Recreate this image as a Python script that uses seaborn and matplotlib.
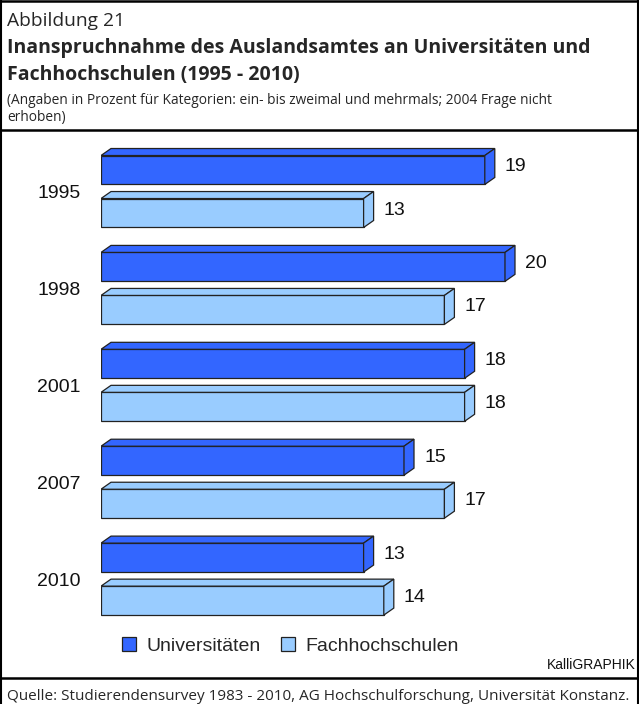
import pandas as pd
import matplotlib.pyplot as plt
import seaborn as sns
from matplotlib.patches import Polygon, Rectangle
from matplotlib.lines import Line2D

# Daten
jahre = ['1995', '1998', '2001', '2007', '2010']
universitaeten = [19, 20, 18, 15, 13]
fachhochschulen = [13, 17, 18, 17, 14]
arten = ['Universitäten', 'Fachhochschulen']
farben = ['#3366FF', '#99CCFF']

df = pd.DataFrame({
    'Jahr': jahre * 2,
    'Prozent': universitaeten + fachhochschulen,
    'Art': [arten[0]] * len(jahre) + [arten[1]] * len(jahre),
})

sns.set_style('white')
plt.rcParams['font.family'] = ['Liberation Sans', 'DejaVu Sans']

W, H = 639, 704
fig = plt.figure(figsize=(W / 100, H / 100), dpi=100)


def fx(px):
    return px / W


def fy(py):
    return 1 - py / H


# Achse in Pixeln: x 101..601, y 140..620
ax = fig.add_axes([fx(101), fy(620), 500 / W, 480 / H])
sns.barplot(data=df, y='Jahr', x='Prozent', hue='Art', orient='h',
            palette=farben, saturation=1, width=0.888, gap=0.327, edgecolor='#222222',
            linewidth=0.9, legend=False, ax=ax, zorder=3)

px_per_x = 20.2
px_per_y = 96.9
ax.set_xlim(0, 500 / px_per_x)
ax.set_ylim((620 - 191.5) / px_per_y, (140 - 191.5) / px_per_y)

# 3D-Effekt: Deckfläche und Seitenfläche
dx = 10 / px_per_x
dy = 7 / px_per_y
for cont, col in zip(ax.containers, farben):
    for bar in cont:
        x0, y0 = bar.get_x(), bar.get_y()
        w, h = bar.get_width(), bar.get_height()
        yt, yb = min(y0, y0 + h), max(y0, y0 + h)
        top = Polygon([(x0, yt), (x0 + dx, yt - dy), (x0 + w + dx, yt - dy), (x0 + w, yt)],
                      closed=True, facecolor=col, edgecolor='#222222', linewidth=0.9, zorder=4)
        side = Polygon([(x0 + w, yt), (x0 + w + dx, yt - dy), (x0 + w + dx, yb - dy), (x0 + w, yb)],
                       closed=True, facecolor=col, edgecolor='#222222', linewidth=0.9, zorder=4)
        ax.add_patch(top)
        ax.add_patch(side)
        ax.text(x0 + w + dx + 10 / px_per_x, (yt + yb) / 2 - 3 / px_per_y, f'{w:.0f}',
                ha='left', va='center', fontsize=14, color='#111111')

ax.set_xlabel('')
ax.set_ylabel('')
ax.set_xticks([])
ax.tick_params(axis='y', length=0, pad=14.4, labelsize=14, labelcolor='#111111')
for s in ax.spines.values():
    s.set_visible(False)

# Legende
handles = [Rectangle((0, 0), 1, 1, facecolor=c, edgecolor='#222222', linewidth=0.9) for c in farben]
fig.legend(handles, arten, loc='center left', bbox_to_anchor=(fx(114), fy(646)),
           ncol=2, frameon=False, fontsize=14, handlelength=0.75, handleheight=0.75,
           handletextpad=0.5, columnspacing=1.05, borderaxespad=0)

fig.text(fx(636), fy(665), 'KalliGRAPHIK', ha='right', va='center', fontsize=10, color='#111111')

# Kopfzeile
kopf = ['Open Sans', 'DejaVu Sans']
fig.text(fx(7), fy(21), 'Abbildung 21', ha='left', va='center', fontsize=13.8, family=kopf)
fig.text(fx(7), fy(48), 'Inanspruchnahme des Auslandsamtes an Universitäten und',
         ha='left', va='center', fontsize=14, fontweight='bold', family=kopf)
fig.text(fx(7), fy(75), 'Fachhochschulen (1995 - 2010)',
         ha='left', va='center', fontsize=14, fontweight='bold', family=kopf)
fig.text(fx(7), fy(100), '(Angaben in Prozent für Kategorien: ein- bis zweimal und mehrmals; 2004 Frage nicht',
         ha='left', va='center', fontsize=9.9, family=kopf)
fig.text(fx(7), fy(118), 'erhoben)', ha='left', va='center', fontsize=9.9, family=kopf)
fig.text(fx(7), fy(697), 'Quelle: Studierendensurvey 1983 - 2010, AG Hochschulforschung, Universität Konstanz.',
         ha='left', va='center', fontsize=11, family=kopf)

# Rahmenlinien
for y in (1, 130, 678):
    fig.add_artist(Line2D([0, 1], [fy(y), fy(y)], color='black', linewidth=1.8))
for x in (1, 638):
    fig.add_artist(Line2D([fx(x), fx(x)], [0, 1], color='black', linewidth=1.5))

fig.savefig('out.png', dpi=100)
